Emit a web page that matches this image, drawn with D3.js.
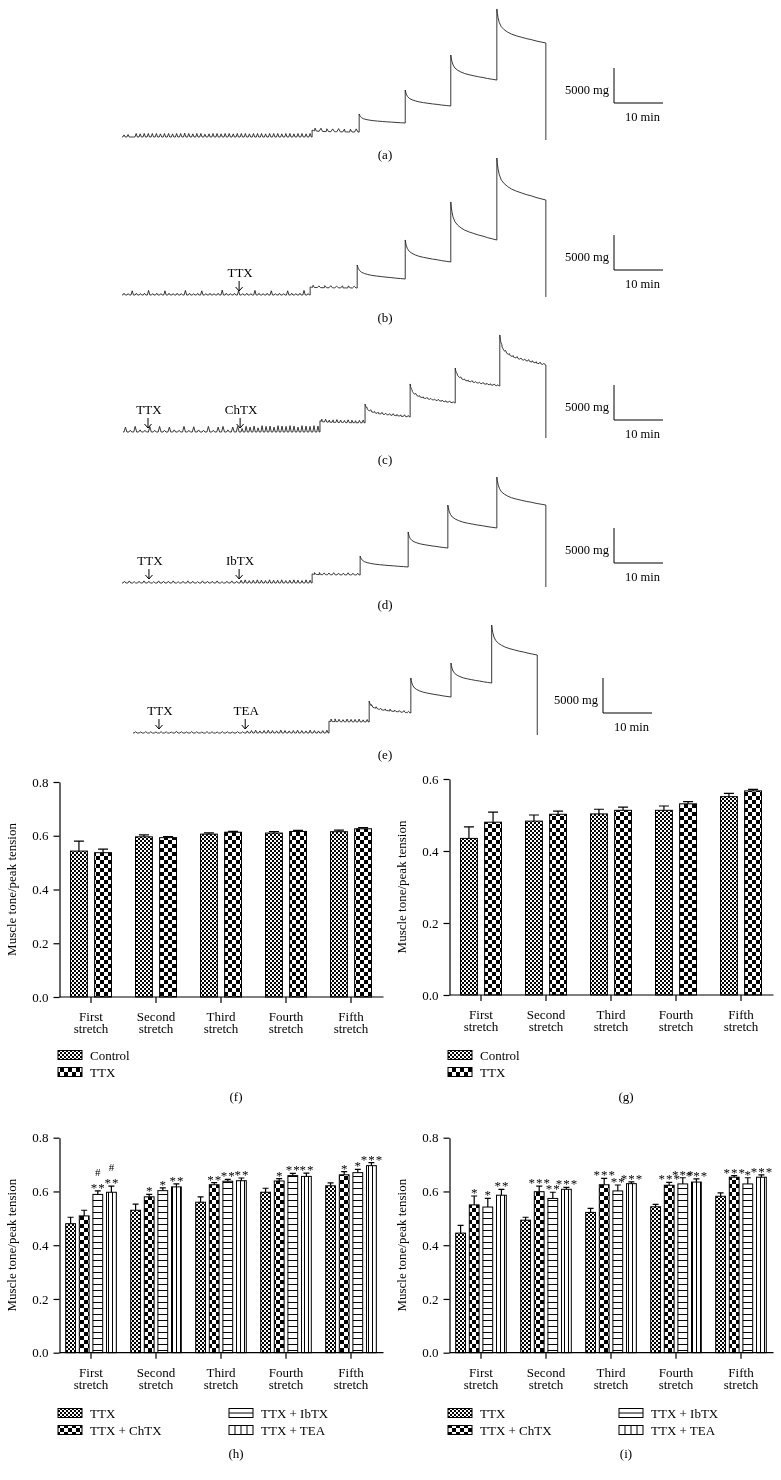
<!DOCTYPE html>
<html>
<head>
<meta charset="utf-8">
<script src="https://cdn.jsdelivr.net/npm/d3@7"></script>
<style>
  body { margin: 0; background: #fff; }
  svg { will-change: transform; }
  svg text { font-family: "Liberation Serif", "Times New Roman", "DejaVu Serif", serif; fill: #000; }
</style>
</head>
<body>
<svg id="fig" width="781" height="1480"></svg>
<script>
// ---------- tension traces (time in min, tension in mg above resting) ----------
var stepsA = [38.8, 48.4, 57.8, 67.1, 76.5], peaksA = [1000, 3290, 6710, 11710, 18290], endsA = [700, 2000, 4430, 8140, 13430];
var stepsB = [38.4, 48.0, 57.8, 67.1, 76.5], peaksB = [1150, 4290, 7860, 13290, 19570], endsB = [1000, 2290, 4720, 7860, 13570];
var stepsC = [40.2, 49.4, 58.6, 67.8, 76.9], peaksC = [1600, 4000, 6860, 9140, 13860], endsC = [1300, 2140, 4140, 6570, 9570];
var stepsD = [38.8, 48.6, 58.4, 66.5, 76.5], peaksD = [1300, 3860, 7290, 11140, 15140], endsD = [1140, 2290, 5000, 7860, 11140];
var stepsE = [40.0, 48.2, 56.7, 64.9, 73.2], peaksE = [1700, 4570, 7860, 10000, 15430], endsE = [1570, 2860, 5140, 7140, 11140];
var stopTimes = [86.5, 86.5, 86.3, 86.5, 82.5];
var dropLevels = [-430, -290, -860, -570, -290];

// shape of the stress relaxation after each stretch (fraction of step, fraction of peak-plateau left)
var decayProfile = [[0, 1], [0.01, 0.87], [0.025, 0.74], [0.05, 0.6], [0.09, 0.48], [0.15, 0.39],
                    [0.22, 0.32], [0.3, 0.26], [0.4, 0.21], [0.5, 0.17], [0.6, 0.13], [0.7, 0.1],
                    [0.8, 0.06], [0.9, 0.03]];

// phasic contractions: amplitudes (mg) read along stretches of the trace
var spikesA = [
  {from: 0, to: 38.8, amps: [300,350,0,500,450,500,500,500,500,450,500,500,450,500,500,550,500,450,500,500,400,450,500,500,
                            450,500,500,450,500,500,500,450,500,500,500,450,500,500,500,450,500,500,450,500,500,450,500]},
  {from: 38.8, to: 48.4, amps: [400,450,400,400,450,400,400,450]}
];
var spikesB = [
  {from: 0, to: 38.4, amps: [250,200,600,250,200,250,650,200,250,200,600,250,200,250,200,650,250,200,250,600,200,250,200,
                            250,700,250,200,250,600,200,250,200,650,250,200,250,600,200,250,200,600,250,200,250,650,200]},
  {from: 38.4, to: 48.0, amps: [300,250,300,300,250,300,300,250]}
];
var spikesC = [
  {from: 0, to: 23.9, amps: [700,250,800,300,250,750,250,800,250,700,300,250,800,250,750,300,250,800,250,700,800,300,700,800]},
  {from: 23.9, to: 40.2, amps: [500,800,700,850,600,900,800,850,700,900,850,800,900,850,700,900,850,800,900,850]},
  {from: 40.2, to: 49.4, amps: [350,400,300,350,400,350,300,400,350,300,350,400]},
  {from: 49.4, to: 58.6, amps: [200,250,200,200,250,200,200,250,200,200,250,200]},
  {from: 58.6, to: 67.8, amps: [150,200,150,150,200,150,150,200,150,150,200,150]},
  {from: 67.8, to: 76.9, amps: [150,200,150,150,200,150,150,200,150,150,200,150]},
  {from: 76.9, to: 86.3, amps: [200,250,200,200,250,200,200,250,200,200,250,200]}
];
var spikesD = [
  {from: 0, to: 23.9, amps: [250,300,200,250,300,250,200,300,250,250,300,200,250,300,250,200,300,250,250,300,200,250,300,250]},
  {from: 23.9, to: 38.8, amps: [400,450,350,400,450,400,350,450,400,400,450,350,400,450,400,350,450,400]},
  {from: 38.8, to: 48.6, amps: [250,300,250,250,300,250,250,300,250,250]}
];
var spikesE = [
  {from: 0, to: 22.9, amps: [180,150,200,180,150,200,180,150,250,180,150,200,180,150,200,180,150,200,180,150,200,180]},
  {from: 22.9, to: 40.0, amps: [300,350,400,300,350,400,350,300,400,350,300,350,400,350,300,400,350,300,350,400]},
  {from: 40.0, to: 48.2, amps: [350,400,350,300,400,350,350,400,300,350]},
  {from: 48.2, to: 56.7, amps: [200,250,200,200,250,200,200,250,200]}
];

var drugsB = [{name: "TTX", t: 23.9}];
var drugsC = [{name: "TTX", t: 5.1}, {name: "ChTX", t: 23.9}];
var drugsD = [{name: "TTX", t: 5.5}, {name: "IbTX", t: 23.9}];
var drugsE = [{name: "TTX", t: 5.3}, {name: "TEA", t: 22.9}];

// ---------- bar charts ----------
var stretches = ["First", "Second", "Third", "Fourth", "Fifth"];

var fControl = [0.543, 0.596, 0.606, 0.610, 0.615], fControlSem = [0.037, 0.007, 0.005, 0.005, 0.006];
var fTTX = [0.537, 0.593, 0.613, 0.616, 0.626], fTTXSem = [0.013, 0.004, 0.003, 0.004, 0.004];

var gControl = [0.435, 0.483, 0.503, 0.513, 0.551], gControlSem = [0.032, 0.017, 0.013, 0.012, 0.009];
var gTTX = [0.480, 0.502, 0.513, 0.531, 0.567], gTTXSem = [0.028, 0.009, 0.009, 0.006, 0.004];

var hTTX = [0.480, 0.530, 0.560, 0.597, 0.621], hTTXSem = [0.024, 0.023, 0.020, 0.015, 0.011];
var hChTX = [0.509, 0.580, 0.625, 0.639, 0.662], hChTXSem = [0.021, 0.009, 0.008, 0.009, 0.012];
var hIbTX = [0.589, 0.603, 0.638, 0.659, 0.670], hIbTXSem = [0.013, 0.010, 0.007, 0.008, 0.012];
var hTEA = [0.597, 0.617, 0.640, 0.656, 0.696], hTEASem = [0.023, 0.011, 0.010, 0.012, 0.011];
var hChTXSig = ["", "*", "**", "*", "*"];
var hIbTXSig = ["**", "*", "**", "**", "*"], hIbTXHash = ["#", "", "", "", ""];
var hTEASig = ["**", "**", "**", "**", "***"], hTEAHash = ["#", "", "", "", ""];

var iTTX = [0.445, 0.493, 0.522, 0.543, 0.582], iTTXSem = [0.029, 0.011, 0.015, 0.009, 0.013];
var iChTX = [0.550, 0.599, 0.625, 0.623, 0.653], iChTXSem = [0.033, 0.021, 0.024, 0.011, 0.006];
var iIbTX = [0.542, 0.574, 0.602, 0.628, 0.628], iIbTXSem = [0.032, 0.023, 0.022, 0.023, 0.023];
var iTEA = [0.586, 0.608, 0.629, 0.635, 0.653], iTEASem = [0.022, 0.007, 0.007, 0.012, 0.009];
var iChTXSig = ["*", "***", "***", "***", "***"];
var iIbTXSig = ["*", "**", "**", "***", "*"];
var iTEASig = ["**", "***", "***", "***", "***"];

var svg = d3.select("#fig");
var defs = svg.append("defs");

function addPattern(id, size, cells) {
  var p = defs.append("pattern").attr("id", id)
    .attr("patternUnits", "userSpaceOnUse").attr("width", size).attr("height", size);
  p.append("rect").attr("width", size).attr("height", size).attr("fill", "#fff");
  cells.forEach(function(c) {
    p.append("rect").attr("x", c[0]).attr("y", c[1]).attr("width", c[2]).attr("height", c[3]).attr("fill", "#000");
  });
}
addPattern("fine", 4, [[0, 0, 2, 2], [2, 2, 2, 2]]);
addPattern("coarse", 8, [[0, 0, 4, 4], [4, 4, 4, 4]]);
addPattern("hlines", 6, [[0, 0, 6, 1]]);
addPattern("vlines", 4, [[0, 0, 1, 4]]);

// ---------- traces ----------
function profileAt(f) {
  var i = d3.bisector(function(d) { return d[0]; }).right(decayProfile, f);
  if (i >= decayProfile.length) {
    var last = decayProfile[decayProfile.length - 1];
    return last[1] * (1 - f) / (1 - last[0]);
  }
  var a = decayProfile[i - 1], b = decayProfile[i];
  return a[1] + (b[1] - a[1]) * (f - a[0]) / (b[0] - a[0]);
}

function levelAt(tr, t) {
  var s = tr.steps;
  if (t < s[0]) return 0;
  var k = d3.bisectRight(s, t) - 1;
  var t1 = k < s.length - 1 ? s[k + 1] : tr.stop;
  var f = (t - s[k]) / (t1 - s[k]);
  return tr.ends[k] + (tr.peaks[k] - tr.ends[k]) * profileAt(f);
}

function tracePoints(tr) {
  var bounds = [0].concat(tr.steps, [tr.stop]);
  var spikePts = [];
  tr.spikes.forEach(function(sg) {
    var w = (sg.to - sg.from) / sg.amps.length;
    sg.amps.forEach(function(a, i) {
      var tc = sg.from + (i + 0.5) * w;
      spikePts.push([tc - 0.3 * w, 0], [tc, a], [tc + 0.3 * w, 0]);
    });
  });
  var pts = [];
  for (var k = 0; k < bounds.length - 1; k++) {
    var t0 = bounds[k], t1 = bounds[k + 1];
    var ts = [[t0, 0], [t1 - 1e-6, 0]];
    if (k > 0) decayProfile.forEach(function(p) { if (p[0] > 0) ts.push([t0 + p[0] * (t1 - t0), 0]); });
    spikePts.forEach(function(p) { if (p[0] > t0 && p[0] < t1 - 1e-6) ts.push(p); });
    ts.sort(function(a, b) { return a[0] - b[0]; });
    ts.forEach(function(p) { pts.push([p[0], levelAt(tr, p[0]) + p[1]]); });
  }
  pts.push([tr.stop, tr.drop]);
  return pts;
}

var traces = [
  {steps: stepsA, peaks: peaksA, ends: endsA, spikes: spikesA, drugs: [], x0: 122, y0: 137, bar: [614, 103], label: "(a)", ly: 158.5},
  {steps: stepsB, peaks: peaksB, ends: endsB, spikes: spikesB, drugs: drugsB, x0: 122, y0: 295, bar: [614, 270], label: "(b)", ly: 321.5},
  {steps: stepsC, peaks: peaksC, ends: endsC, spikes: spikesC, drugs: drugsC, x0: 123, y0: 432, bar: [614, 420], label: "(c)", ly: 463.5},
  {steps: stepsD, peaks: peaksD, ends: endsD, spikes: spikesD, drugs: drugsD, x0: 122, y0: 583, bar: [614, 563], label: "(d)", ly: 608.5},
  {steps: stepsE, peaks: peaksE, ends: endsE, spikes: spikesE, drugs: drugsE, x0: 133, y0: 733, bar: [603, 713], label: "(e)", ly: 758.5}
];

traces.forEach(function(tr, ti) {
  tr.stop = stopTimes[ti];
  tr.drop = dropLevels[ti];
  var xs = d3.scaleLinear().domain([0, 10]).range([tr.x0, tr.x0 + 49]);
  var ys = d3.scaleLinear().domain([0, 5000]).range([tr.y0, tr.y0 - 35]);
  var g = svg.append("g");

  var line = d3.line().x(function(d) { return xs(d[0]); }).y(function(d) { return ys(d[1]); });
  g.append("path").attr("d", line(tracePoints(tr)))
    .attr("fill", "none").attr("stroke", "#222").attr("stroke-width", 0.9).attr("stroke-linejoin", "round");

  // drug application arrows
  tr.drugs.forEach(function(dr) {
    var x = xs(dr.t);
    g.append("path")
      .attr("d", "M" + x + "," + (tr.y0 - 14) + "V" + (tr.y0 - 4) + "M" + (x - 3.5) + "," + (tr.y0 - 8) +
                 "L" + x + "," + (tr.y0 - 4) + "L" + (x + 3.5) + "," + (tr.y0 - 8))
      .attr("fill", "none").attr("stroke", "#000").attr("stroke-width", 1);
    g.append("text").attr("x", x + 1).attr("y", tr.y0 - 18).attr("text-anchor", "middle")
      .style("font-size", "13px").text(dr.name);
  });

  // scale bar 5000 mg / 10 min
  var cx = tr.bar[0], cy = tr.bar[1];
  var vLen = ys(0) - ys(5000), hLen = xs(10) - xs(0);
  g.append("path").attr("d", "M" + cx + "," + (cy - vLen) + "V" + cy + "H" + (cx + hLen))
    .attr("fill", "none").attr("stroke", "#000").attr("stroke-width", 1);
  g.append("text").attr("x", cx - 5).attr("y", cy - 9).attr("text-anchor", "end")
    .style("font-size", "12.5px").text("5000 mg");
  g.append("text").attr("x", cx + hLen / 2 + 4).attr("y", cy + 18).attr("text-anchor", "middle")
    .style("font-size", "12.5px").text("10 min");

  g.append("text").attr("x", 385).attr("y", tr.ly).attr("text-anchor", "middle")
    .style("font-size", "13px").text(tr.label);
});

// ---------- bar charts ----------
var charts = [
  {axisX: 59.5, xr: [58.5, 383.5], yr: [997, 782], ymax: 0.8, half: 20.5, pad: 0.3, capW: 10,
   series: [{name: "Control", vals: fControl, sem: fControlSem, pat: "fine"},
            {name: "TTX", vals: fTTX, sem: fTTXSem, pat: "coarse"}],
   legendY: 1055, label: "(f)", labelY: 1100.5},
  {axisX: 449.5, xr: [448.5, 773.5], yr: [995, 779], ymax: 0.6, half: 20.5, pad: 0.3, capW: 10,
   series: [{name: "Control", vals: gControl, sem: gControlSem, pat: "fine"},
            {name: "TTX", vals: gTTX, sem: gTTXSem, pat: "coarse"}],
   legendY: 1055, label: "(g)", labelY: 1100.5},
  {axisX: 59.5, xr: [58.5, 383.5], yr: [1352.7, 1137.7], ymax: 0.8, half: 25.3, pad: 0.28, capW: 6,
   series: [{name: "TTX", vals: hTTX, sem: hTTXSem, pat: "fine"},
            {name: "TTX + ChTX", vals: hChTX, sem: hChTXSem, pat: "coarse", sig: hChTXSig},
            {name: "TTX + IbTX", vals: hIbTX, sem: hIbTXSem, pat: "hlines", sig: hIbTXSig, hash: hIbTXHash},
            {name: "TTX + TEA", vals: hTEA, sem: hTEASem, pat: "vlines", sig: hTEASig, hash: hTEAHash}],
   legendY: 1413, label: "(h)", labelY: 1457.5},
  {axisX: 449.5, xr: [448.5, 773.5], yr: [1352.7, 1137.7], ymax: 0.8, half: 25.3, pad: 0.28, capW: 6,
   series: [{name: "TTX", vals: iTTX, sem: iTTXSem, pat: "fine"},
            {name: "TTX + ChTX", vals: iChTX, sem: iChTXSem, pat: "coarse", sig: iChTXSig},
            {name: "TTX + IbTX", vals: iIbTX, sem: iIbTXSem, pat: "hlines", sig: iIbTXSig},
            {name: "TTX + TEA", vals: iTEA, sem: iTEASem, pat: "vlines", sig: iTEASig}],
   legendY: 1413, label: "(i)", labelY: 1457.5}
];

charts.forEach(function(c) {
  var g = svg.append("g");
  var x = d3.scaleBand().domain(stretches).range(c.xr);
  var y = d3.scaleLinear().domain([0, c.ymax]).range(c.yr);
  var inner = d3.scaleBand().domain(c.series.map(function(s) { return s.name; }))
    .range([-c.half, c.half]).paddingInner(c.pad);
  var bw = inner.bandwidth();
  function barX(s, i) { return x(stretches[i]) + x.bandwidth() / 2 + inner(s.name); }

  c.series.forEach(function(s) {
    var sg = g.append("g");
    sg.selectAll("rect").data(s.vals).join("rect")
      .attr("x", function(d, i) { return barX(s, i); })
      .attr("y", function(d) { return y(d); })
      .attr("width", bw)
      .attr("height", function(d) { return y(0) - y(d); })
      .attr("fill", "url(#" + s.pat + ")")
      .attr("stroke", "#000").attr("stroke-width", 1);

    // upper error bars
    sg.selectAll("path.err").data(s.vals).join("path").attr("class", "err")
      .attr("d", function(d, i) {
        var cx = barX(s, i) + bw / 2, top = y(d + s.sem[i]);
        return "M" + cx + "," + y(d) + "V" + top + "M" + (cx - c.capW / 2) + "," + top + "H" + (cx + c.capW / 2);
      })
      .attr("fill", "none").attr("stroke", "#000").attr("stroke-width", 1.2);

    if (s.sig) {
      sg.selectAll("text.sig").data(s.sig).join("text").attr("class", "sig")
        .attr("x", function(d, i) { return barX(s, i) + bw / 2 + 0.5; })
        .attr("y", function(d, i) { return y(s.vals[i] + s.sem[i]) + 1; })
        .attr("text-anchor", "middle").style("font-size", "13px").style("letter-spacing", "1px")
        .text(function(d) { return d; });
    }
    if (s.hash) {
      sg.selectAll("text.hash").data(s.hash).join("text").attr("class", "hash")
        .attr("x", function(d, i) { return barX(s, i) + bw / 2; })
        .attr("y", function(d, i) { return y(s.vals[i] + s.sem[i]) - 15; })
        .attr("text-anchor", "middle").style("font-size", "11px")
        .text(function(d) { return d; });
    }
  });

  // axes
  var ticks = d3.range(0, c.ymax + 0.001, 0.2);
  var ya = g.append("g").attr("transform", "translate(" + c.axisX + ",0)")
    .call(d3.axisLeft(y).tickValues(ticks).tickFormat(d3.format(".1f")).tickSize(6).tickSizeOuter(0).tickPadding(5));
  var xa = g.append("g").attr("transform", "translate(0," + y(0) + ")")
    .call(d3.axisBottom(x).tickSize(6).tickSizeOuter(0).tickFormat(""));
  [ya, xa].forEach(function(a) {
    a.attr("font-family", null).attr("font-size", null);
    a.selectAll("path,line").attr("stroke", "#000").attr("stroke-width", 1.2);
    a.selectAll("text").style("font-size", "13px");
  });
  xa.select(".domain").attr("d", "M" + c.axisX + ",0H" + c.xr[1]);

  stretches.forEach(function(name) {
    var t = g.append("text").attr("text-anchor", "middle").style("font-size", "13px")
      .attr("x", x(name) + x.bandwidth() / 2);
    t.append("tspan").attr("x", x(name) + x.bandwidth() / 2).attr("y", y(0) + 24).text(name);
    t.append("tspan").attr("x", x(name) + x.bandwidth() / 2).attr("y", y(0) + 36).text("stretch");
  });

  g.append("text").attr("transform", "translate(" + (c.axisX - 44) + "," + ((c.yr[0] + c.yr[1]) / 2) + ") rotate(-90)")
    .attr("text-anchor", "middle").style("font-size", "13px").text("Muscle tone/peak tension");

  // legend: two rows per column
  c.series.forEach(function(s, k) {
    var lx = c.axisX - 1.5 + Math.floor(k / 2) * 171, ly = c.legendY + (k % 2) * 17;
    var sw = g.append("g");
    var fill = (s.pat === "fine" || s.pat === "coarse") ? "url(#" + s.pat + ")" : "#fff";
    sw.append("rect").attr("x", lx).attr("y", ly - 4.5).attr("width", 24).attr("height", 9)
      .attr("fill", fill).attr("stroke", "#000").attr("stroke-width", 1);
    if (s.pat === "hlines") {
      sw.append("line").attr("x1", lx).attr("x2", lx + 24).attr("y1", ly).attr("y2", ly)
        .attr("stroke", "#000").attr("stroke-width", 1);
    }
    if (s.pat === "vlines") {
      [6, 12, 18].forEach(function(dx) {
        sw.append("line").attr("x1", lx + dx).attr("x2", lx + dx).attr("y1", ly - 4.5).attr("y2", ly + 4.5)
          .attr("stroke", "#000").attr("stroke-width", 1);
      });
    }
    g.append("text").attr("x", lx + 32).attr("y", ly + 4.5).style("font-size", "13px").text(s.name);
  });

  g.append("text").attr("x", (c.xr[0] + c.xr[1]) / 2 + 15).attr("y", c.labelY).attr("text-anchor", "middle")
    .style("font-size", "13px").text(c.label);
});
</script>
</body>
</html>
